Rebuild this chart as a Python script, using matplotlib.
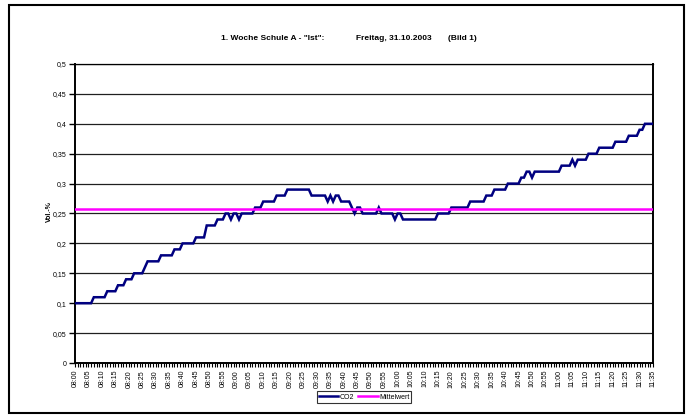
import numpy as np
import matplotlib
matplotlib.use("Agg")
import matplotlib.pyplot as plt
from matplotlib.patches import Rectangle

plt.rcParams['font.family'] = ['Liberation Sans', 'DejaVu Sans']

# CO2 readings, one per minute from 08:00 to 11:35 (Vol.-%)
co2 = [
    0.10, 0.10, 0.10, 0.10, 0.10, 0.10, 0.10, 0.11, 0.11, 0.11,
    0.11, 0.11, 0.12, 0.12, 0.12, 0.12, 0.13, 0.13, 0.13, 0.14,
    0.14, 0.14, 0.15, 0.15, 0.15, 0.15, 0.16, 0.17, 0.17, 0.17,
    0.17, 0.17, 0.18, 0.18, 0.18, 0.18, 0.18, 0.19, 0.19, 0.19,
    0.20, 0.20, 0.20, 0.20, 0.20, 0.21, 0.21, 0.21, 0.21, 0.23,
    0.23, 0.23, 0.23, 0.24, 0.24, 0.24, 0.25, 0.25, 0.24, 0.25,
    0.25, 0.24, 0.25, 0.25, 0.25, 0.25, 0.25, 0.26, 0.26, 0.26,
    0.27, 0.27, 0.27, 0.27, 0.27, 0.28, 0.28, 0.28, 0.28, 0.29,
    0.29, 0.29, 0.29, 0.29, 0.29, 0.29, 0.29, 0.29, 0.28, 0.28,
    0.28, 0.28, 0.28, 0.28, 0.27, 0.28, 0.27, 0.28, 0.28, 0.27,
    0.27, 0.27, 0.27, 0.26, 0.25, 0.26, 0.26, 0.25, 0.25, 0.25,
    0.25, 0.25, 0.25, 0.26, 0.25, 0.25, 0.25, 0.25, 0.25, 0.24,
    0.25, 0.25, 0.24, 0.24, 0.24, 0.24, 0.24, 0.24, 0.24, 0.24,
    0.24, 0.24, 0.24, 0.24, 0.24, 0.25, 0.25, 0.25, 0.25, 0.25,
    0.26, 0.26, 0.26, 0.26, 0.26, 0.26, 0.26, 0.27, 0.27, 0.27,
    0.27, 0.27, 0.27, 0.28, 0.28, 0.28, 0.29, 0.29, 0.29, 0.29,
    0.29, 0.30, 0.30, 0.30, 0.30, 0.30, 0.31, 0.31, 0.32, 0.32,
    0.31, 0.32, 0.32, 0.32, 0.32, 0.32, 0.32, 0.32, 0.32, 0.32,
    0.32, 0.33, 0.33, 0.33, 0.33, 0.34, 0.33, 0.34, 0.34, 0.34,
    0.34, 0.35, 0.35, 0.35, 0.35, 0.36, 0.36, 0.36, 0.36, 0.36,
    0.36, 0.37, 0.37, 0.37, 0.37, 0.37, 0.38, 0.38, 0.38, 0.38,
    0.39, 0.39, 0.40, 0.40, 0.40, 0.40,
]
mittelwert = 0.257

time_labels = [
    "08:00", "08:05", "08:10", "08:15", "08:20", "08:25", "08:30", "08:35",
    "08:40", "08:45", "08:50", "08:55", "09:00", "09:05", "09:10", "09:15",
    "09:20", "09:25", "09:30", "09:35", "09:40", "09:45", "09:50", "09:55",
    "10:00", "10:05", "10:10", "10:15", "10:20", "10:25", "10:30", "10:35",
    "10:40", "10:45", "10:50", "10:55", "11:00", "11:05", "11:10", "11:15",
    "11:20", "11:25", "11:30", "11:35",
]
y_ticks = [0, 0.05, 0.1, 0.15, 0.2, 0.25, 0.3, 0.35, 0.4, 0.45, 0.5]
y_labels = ["0", "0,05", "0,1", "0,15", "0,2", "0,25", "0,3", "0,35", "0,4", "0,45", "0,5"]

W, H = 691, 419
fig = plt.figure(figsize=(W / 100, H / 100), dpi=100)
ax = fig.add_axes([75 / W, 1 - 363 / H, (653 - 75) / W, (363 - 64) / H])

x = np.arange(len(co2))
ax.plot(x, co2, color="#000080", lw=1.8, label="CO2", zorder=3, solid_joinstyle="miter")
ax.plot(x, [mittelwert] * len(co2), color="#FF00FF", lw=1.8, label="Mittelwert", zorder=4)

ax.set_xlim(0, len(co2) - 1)
ax.set_ylim(0, 0.5)
ax.set_yticks(y_ticks)
ax.set_yticklabels(y_labels, fontsize=5)
ax.set_xticks(x[::5])
ax.set_xticklabels(time_labels, rotation=90, fontsize=5)
ax.set_xticks(x, minor=True)
ax.tick_params(axis="x", which="both", direction="out", length=3, width=0.8, pad=2)
ax.tick_params(axis="y", direction="out", length=4, width=1, pad=2)

ax.yaxis.grid(True, color="#202020", lw=0.9)
ax.set_axisbelow(True)
for side in ["left", "bottom", "right"]:
    ax.spines[side].set_linewidth(1.4)
    ax.spines[side].set_color("black")
ax.spines["top"].set_linewidth(0.9)

fig.text(49 / W, 1 - 212 / H, "Vol.-%", rotation=90, fontsize=5, fontweight="bold",
         ha="center", va="center")

fig.text(221 / W, 1 - 38 / H, '1. Woche Schule A - "Ist":', fontsize=6, fontweight="bold",
         ha="left", va="center")
fig.text(356 / W, 1 - 38 / H, "Freitag, 31.10.2003", fontsize=6, fontweight="bold",
         ha="left", va="center")
fig.text(448 / W, 1 - 38 / H, "(Bild 1)", fontsize=6, fontweight="bold",
         ha="left", va="center")

leg = fig.legend(loc="center", bbox_to_anchor=(364 / W, 1 - 397 / H), ncol=2,
                 fontsize=5, frameon=True, fancybox=False, edgecolor="black",
                 handlelength=2.8, handletextpad=0.2, columnspacing=0.6,
                 borderpad=0.3, borderaxespad=0)
leg.get_frame().set_linewidth(0.8)

fig.patches.append(Rectangle((9 / W, 1 - 413 / H), (684 - 9) / W, (413 - 5) / H,
                             transform=fig.transFigure, fill=False, ec="black", lw=1.5))

fig.savefig("out.png", dpi=100)
plt.close(fig)
